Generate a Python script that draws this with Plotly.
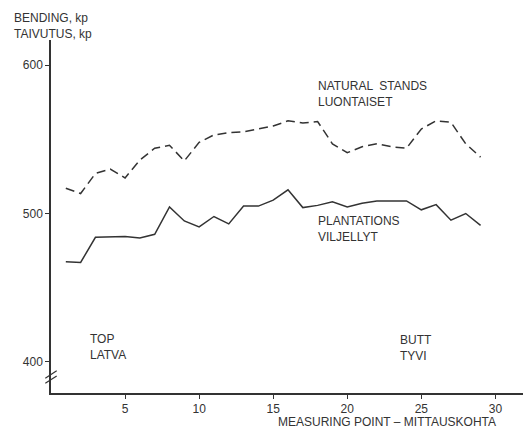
import plotly.graph_objects as go

points = list(range(1, 30))
natural_stands = [517, 513.5, 527, 530, 524, 536, 544, 546, 535.5, 548, 553, 554.5, 555, 557,
                  559, 562.5, 561, 562, 547, 541, 545, 547, 545, 544, 557, 562.5, 561.5, 547, 538]
plantations = [467.5, 467, 484, 484, 484.5, 483.5, 486, 504.5, 495, 491, 498, 493, 505, 505,
               509, 516, 504, 505.5, 508, 504.5, 507, 508.5, 508.5, 508.5, 502.5, 506, 495.5, 500, 492]
x_ticks = [5, 10, 15, 20, 25, 30]
y_ticks = [400, 500, 600]

INK = "#333333"
FONT = "Liberation Sans, Arial, sans-serif"
FS = 12

fig = go.Figure()
fig.add_trace(go.Scatter(x=points, y=natural_stands, mode="lines",
                         line=dict(color=INK, width=1.5, dash="9px,5px"), showlegend=False))
fig.add_trace(go.Scatter(x=points, y=plantations, mode="lines",
                         line=dict(color=INK, width=1.5), showlegend=False))

fig.update_layout(
    width=523, height=424,
    margin=dict(l=43, r=6, t=32, b=39),
    paper_bgcolor="white", plot_bgcolor="white",
    font=dict(family=FONT, size=FS, color=INK),
    xaxis=dict(range=[0, 32], tickvals=x_ticks, showgrid=False, zeroline=False,
               showline=True, linecolor=INK, linewidth=1.5, ticks="outside",
               ticklen=4, tickcolor=INK, tickwidth=1, tickfont=dict(size=FS)),
    yaxis=dict(range=[379, 617], tickvals=y_ticks, showgrid=False, zeroline=False,
               showline=True, linecolor=INK, linewidth=1.5, ticks="outside",
               ticklen=4, tickcolor=INK, tickwidth=1, tickfont=dict(size=FS)),
)

# axis break marks
for y0 in (388, 391.5):
    fig.add_shape(type="line", xref="paper", yref="y",
                  x0=-0.012, x1=0.012, y0=y0 - 2.5, y1=y0 + 2.5,
                  line=dict(color=INK, width=1.2))

def label(text, x, y, xref="x", yref="y", xanchor="left", yanchor="middle"):
    fig.add_annotation(text=text, x=x, y=y, xref=xref, yref=yref, showarrow=False,
                       xanchor=xanchor, yanchor=yanchor, align="left",
                       font=dict(family=FONT, size=FS, color=INK))

label("BENDING, kp<br>TAIVUTUS, kp", -0.082, 1.0, xref="paper", yref="paper",
      yanchor="top")
fig.layout.annotations[-1].yshift = 0
fig.layout.annotations[-1].y = (385 - 1) / 353
label("NATURAL  STANDS<br>LUONTAISET", 17.9, 580.5)
label("PLANTATIONS<br>VILJELLYT", 17.9, 489.5)
label("TOP<br>LATVA", 2.5, 410)
label("BUTT<br>TYVI", 23.4, 409.5)
label("MEASURING POINT – MITTAUSKOHTA", 0.709, -0.082, xref="paper", yref="paper",
      xanchor="center")

fig.write_html("out.html")
